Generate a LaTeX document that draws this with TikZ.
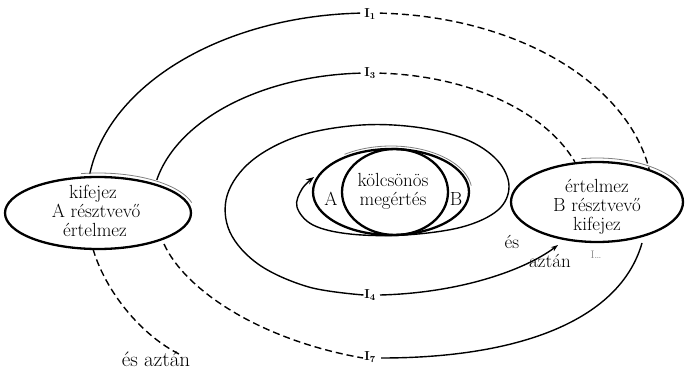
\documentclass[tikz,border=0pt]{standalone}
\usepackage{fontspec}
\usetikzlibrary{arrows.meta,shapes.geometric}
\begin{document}
\begin{tikzpicture}[x=1pt,y=-1pt,
  ring/.style={line width=1.4pt, black},
  dsh/.style={ring, dash pattern=on 7pt off 4pt},
  oval/.style={draw, ellipse, line width=2.3pt, inner sep=0pt},
  hug/.style={line width=0.8pt, black!50},
  lbl/.style={font=\fontsize{19}{19}\selectfont, anchor=base, inner sep=0pt},
  tick/.style={font=\fontsize{13}{13}\selectfont\bfseries, inner sep=0pt},
  tip/.style={-{Stealth[length=8pt,width=6pt]}}
]
\useasboundingbox (0,0) rectangle (685,369);

% outer ring (top)
\draw[ring] plot[domain=172:92, samples=60] ({370+283*cos(\x)},{200-187*sin(\x)});
\draw[dsh]  plot[domain=88:9, samples=60] ({370+283*cos(\x)},{200-187*sin(\x)});
% second ring (top)
\draw[ring] plot[domain=168:92.5, samples=60] ({370+218*cos(\x)},{208-135*sin(\x)});
\draw[dsh]  plot[domain=87.5:20, samples=60] ({370+218*cos(\x)},{208-135*sin(\x)});

% lower parts
\draw[dsh] (93,249) .. controls (105,290) and (140,335) .. (181,355);
\draw[dsh] (164,244) .. controls (185,290) and (260,340) .. (363,358);
\draw[ring] (381,358) .. controls (520,358) and (620,320) .. (642,243);

% inner ring with loop to A
\draw[ring, tip] plot[smooth, tension=0.6] coordinates {
  (363.5,295) (308.7,287.0) (258.9,264.6) (229.9,232.0) (227.2,195.2)
  (251.2,161.2) (297.5,136.4) (357.4,125.3) (415,127) (465,139) (497,160)
  (509,186) (498,210) (462,227) (405,235) (350,234) (313,225) (297,207)
  (302,189) (314,177)};
\draw[ring, -{Stealth[length=7pt,width=5pt]}] (380,295) .. controls (460,293) and (525,270) .. (558,245);

% thin hugging lines
\draw[hug] plot[domain=125:8, samples=40] ({391+81*cos(\x)},{192-46*sin(\x)});
\draw[hug] plot[domain=100:15, samples=40] ({98+97*cos(\x)},{213-40*sin(\x)});
\draw[hug] plot[domain=100:25, samples=40] ({597+90*cos(\x)},{202-44*sin(\x)});

% ellipses
\node[oval, fill=white, minimum width=186, minimum height=72] (L) at (98,213) {};
\node[oval, fill=white, minimum width=172, minimum height=80] (R) at (597,202) {};
\node[oval, minimum width=156, minimum height=86] (C) at (391,192) {};
\node[oval, minimum width=106, minimum height=86] (K) at (395,192) {};

% texts
\node[lbl] (l1) at (93,198) {kifejez};
\node[lbl] (l2) at (96,217) {A résztvevő};
\node[lbl] (l3) at (95,236) {értelmez};
\node[lbl] (r1) at (597,192) {értelmez};
\node[lbl] (r2) at (597,211) {B résztvevő};
\node[lbl] (r3) at (597,230) {kifejez};
\node[lbl] (c1) at (393,186) {kölcsönös};
\node[lbl] (c2) at (393,205) {megértés};
\node[lbl] (a) at (331,205) {A};
\node[lbl] (b) at (456,205) {B};
\node[lbl] (es) at (512,248) {és};
\node[lbl] (aztan) at (550,267) {aztán};
\node[lbl, font=\fontsize{21}{21}\selectfont] (esaztan) at (156,366) {és aztán};

% ticks
\node[tick] (i1) at (370,14) {I\textsubscript{1}};
\node[tick] (i3) at (370,73) {I\textsubscript{3}};
\node[tick] (i4) at (370,295) {I\textsubscript{4}};
\node[tick] (i7) at (370,357) {I\textsubscript{7}};
\node[font=\fontsize{11}{11}\selectfont, text=black!45, inner sep=0pt] (dots) at (596,255) {I\ldots};
\end{tikzpicture}
\end{document}
